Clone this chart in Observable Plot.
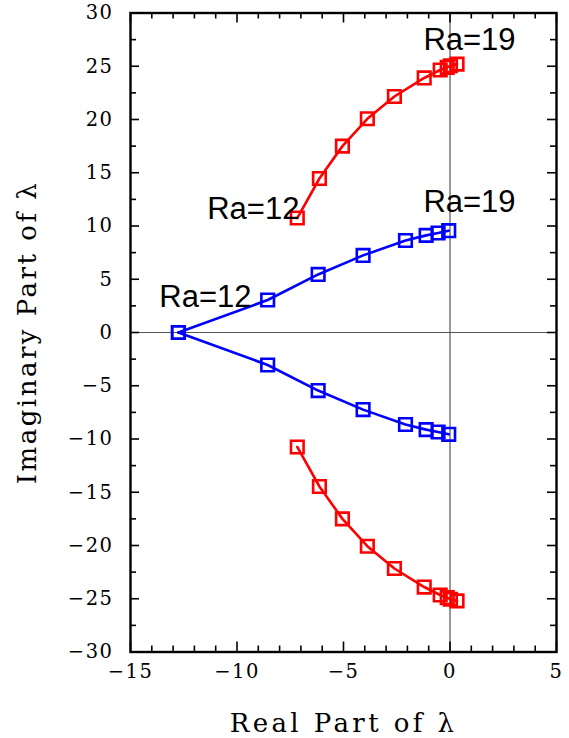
<!DOCTYPE html>
<html><head><meta charset="utf-8">
<script src="https://cdn.jsdelivr.net/npm/d3@7"></script>
<script src="https://cdn.jsdelivr.net/npm/@observablehq/plot@0.6"></script>
<style>body{margin:0;background:#fff}svg{display:block}</style>
</head><body><div id="chart"></div>
<script>
// Red branch (upper half; lower half is the complex conjugate)
const redRe = [-7.17, -6.13, -5.05, -3.88, -2.61, -1.21, -0.46, -0.13, 0.02, 0.33];
const redIm = [10.75, 14.46, 17.5, 20.07, 22.16, 23.9, 24.65, 24.9, 25.05, 25.2];
// Blue branch (upper half; lower half is the complex conjugate)
const blueRe = [-12.75, -8.56, -6.19, -4.08, -2.09, -1.12, -0.56, -0.06];
const blueIm = [0, 3.05, 5.45, 7.24, 8.64, 9.12, 9.34, 9.56];
// Annotations
const labelText = ["Ra=19", "Ra=12", "Ra=19", "Ra=12"];
const labelRe = [-1.25, -11.4, -1.25, -13.65];
const labelIm = [26.5, 10.7, 11.27, 2.38];
// Axis ticks
const xTicks = [-15, -10, -5, 0, 5];
const yTicks = [-30, -25, -20, -15, -10, -5, 0, 5, 10, 15, 20, 25, 30];
const xMinor = [-14, -13, -12, -11, -9, -8, -7, -6, -4, -3, -2, -1, 1, 2, 3, 4];
const yMinor = [-27.5, -22.5, -17.5, -12.5, -7.5, -2.5, 2.5, 7.5, 12.5, 17.5, 22.5, 27.5];

const branches = [];
redRe.forEach((re, i) => {
  branches.push({re, im: redIm[i], branch: "redU", color: "#ff0000"});
});
redRe.forEach((re, i) => {
  branches.push({re, im: -redIm[i], branch: "redL", color: "#ff0000"});
});
blueRe.forEach((re, i) => {
  branches.push({re, im: blueIm[i], branch: "blueU", color: "#0000ff"});
});
blueRe.forEach((re, i) => {
  branches.push({re, im: -blueIm[i], branch: "blueL", color: "#0000ff"});
});
const labels = labelText.map((t, i) => ({t, re: labelRe[i], im: labelIm[i]}));

const W = 569, H = 738;
const mt = 12.5, mb = 86.5, ml = 130, mr = 13;
const fh = H - mt - mb, fw = W - ml - mr;
const serif = "DejaVu Serif";
const tickW = 1.6;

const chart = Plot.plot({
  width: W, height: H,
  marginTop: mt, marginBottom: mb, marginLeft: ml, marginRight: mr,
  style: {fontFamily: serif, background: "#fff", color: "#000"},
  x: {domain: [-15, 5]},
  y: {domain: [-30, 30]},
  marks: [
    Plot.ruleX([0], {stroke: "#555", strokeWidth: 1.2}),
    Plot.ruleY([0], {stroke: "#555", strokeWidth: 1.2}),
    // inward ticks
    Plot.tickX(xTicks, {x: d => d, insetTop: fh - 10, strokeWidth: tickW}),
    Plot.tickX(xTicks, {x: d => d, insetBottom: fh - 10, strokeWidth: tickW}),
    Plot.tickX(xMinor, {x: d => d, insetTop: fh - 6, strokeWidth: tickW}),
    Plot.tickX(xMinor, {x: d => d, insetBottom: fh - 6, strokeWidth: tickW}),
    Plot.tickY(yTicks, {y: d => d, insetRight: fw - 9, strokeWidth: tickW}),
    Plot.tickY(yTicks, {y: d => d, insetLeft: fw - 9, strokeWidth: tickW}),
    Plot.tickY(yMinor, {y: d => d, insetRight: fw - 6, strokeWidth: tickW}),
    Plot.tickY(yMinor, {y: d => d, insetLeft: fw - 6, strokeWidth: tickW}),
    Plot.axisX(xTicks, {tickSize: 0, tickPadding: 12, fontFamily: serif,
      label: "Real Part of λ", labelAnchor: "center", labelOffset: 80, labelArrow: "none"}),
    Plot.axisY(yTicks, {tickSize: 0, tickPadding: 17, fontFamily: serif,
      label: "Imaginary Part of λ", labelAnchor: "center", labelOffset: 113, labelArrow: "none"}),
    Plot.line(branches, {x: "re", y: "im", z: "branch", stroke: "color", strokeWidth: 2.6}),
    Plot.dot(branches, {x: "re", y: "im", symbol: "square", r: 7.1, stroke: "color", strokeWidth: 2.6, fill: "none"}),
    Plot.text(labels, {x: "re", y: "im", text: "t", textAnchor: "start", lineAnchor: "bottom",
      fontFamily: "Liberation Sans", fill: "#000"}),
    Plot.frame({strokeWidth: 2.4})
  ]
});
document.getElementById("chart").append(chart);
// Hershey-like sizing and letter spacing for axis texts
chart.querySelectorAll('[aria-label="x-axis tick label"] text, [aria-label="y-axis tick label"] text').forEach(t => {
  t.style.fontSize = "19.5px";
  t.style.letterSpacing = "1.5px";
});
chart.querySelectorAll('[aria-label="x-axis label"] text').forEach(t => {
  t.style.fontSize = "26px";
  t.style.letterSpacing = "3.4px";
});
chart.querySelectorAll('[aria-label="y-axis label"] text').forEach(t => {
  t.style.fontSize = "26px";
  t.style.letterSpacing = "2.5px";
});
chart.querySelectorAll('[aria-label="text"] text').forEach(t => {
  t.style.fontSize = "31px";
});
</script>
</body></html>
